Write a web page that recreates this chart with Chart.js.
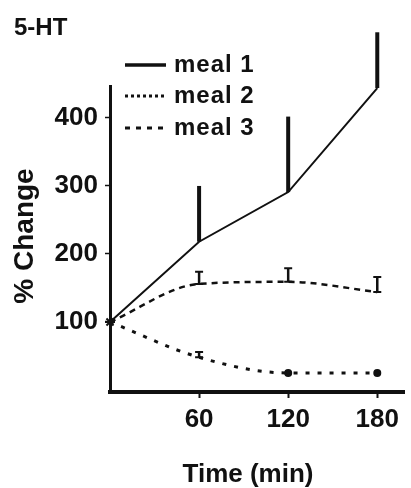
<!DOCTYPE html>
<html>
<head>
<meta charset="utf-8">
<script src="https://cdn.jsdelivr.net/npm/chart.js@4.4.1/dist/chart.umd.min.js"></script>
<style>
  html, body { margin: 0; padding: 0; background: #fff; }
  canvas { display: block; }
</style>
</head>
<body>
<canvas id="chart" width="411" height="488"></canvas>
<script>
const times = [0, 60, 120, 180]
const meal1 = [100, 218, 291, 444]
const meal1Upper = [null, 300, 402, 526]
const meal2 = [100, 156, 159, 144]
const meal2Upper = [null, 174, 179, 166]
const meal3 = [100, 48, 25, 25]
const meal3Upper = [null, 56, null, null]
const xTicks = [60, 120, 180]
const yTicks = [100, 200, 300, 400]

const sans = "'Liberation Sans', Arial, sans-serif"
const ink = "#111"

const toPoints = vals => vals.map((v, i) => ({ x: times[i], y: v }))

// error bars (upward only), drawn through the scales
const errorBars = {
  id: "errorBars",
  afterDatasetsDraw(chart) {
    const { ctx, scales: { x, y } } = chart
    ctx.save()
    chart.data.datasets.forEach(ds => {
      if (!ds.upper) return
      ds.upper.forEach((u, i) => {
        if (u == null) return
        const px = x.getPixelForValue(times[i])
        const y0 = y.getPixelForValue(ds.data[i].y)
        const y1 = y.getPixelForValue(u)
        ctx.strokeStyle = ink
        ctx.lineWidth = ds.errWidth
        ctx.setLineDash([])
        ctx.beginPath()
        ctx.moveTo(px, y0)
        ctx.lineTo(px, y1)
        ctx.stroke()
        if (ds.errCap) {
          ctx.lineWidth = 2
          ctx.beginPath()
          ctx.moveTo(px - ds.errCap, y1)
          ctx.lineTo(px + ds.errCap, y1)
          ctx.moveTo(px - ds.errCap, y0)
          ctx.lineTo(px + ds.errCap, y0)
          ctx.stroke()
        }
      })
    })
    ctx.restore()
  }
}

// legend inside the plot + texts
const labels = {
  id: "labels",
  afterDraw(chart) {
    const { ctx } = chart
    ctx.save()
    ctx.fillStyle = ink
    ctx.textBaseline = "alphabetic"

    ctx.font = "bold 24px " + sans
    ctx.textAlign = "left"
    ctx.fillText("5-HT", 14, 35)

    const rows = [72, 103, 135]
    chart.data.datasets.forEach((ds, i) => {
      const by = rows[i]
      ctx.strokeStyle = ink
      ctx.lineWidth = ds.legendWidth
      ctx.setLineDash(ds.legendDash)
      ctx.beginPath()
      ctx.moveTo(125, by - 7)
      ctx.lineTo(166, by - 7)
      ctx.stroke()
      ctx.setLineDash([])
      ctx.font = "bold 24px " + sans
      ctx.letterSpacing = "1px"
      ctx.fillText(ds.label, 174, by)
      ctx.letterSpacing = "0px"
    })

    ctx.font = "bold 26px " + sans
    ctx.textAlign = "center"
    ctx.fillText("Time (min)", 248, 482)

    ctx.translate(33, 236)
    ctx.rotate(-Math.PI / 2)
    ctx.font = "bold 28px " + sans
    ctx.fillText("% Change", 0, 0)
    ctx.restore()
  }
}

const bg = {
  id: "bg",
  beforeDraw(chart) {
    const { ctx } = chart
    ctx.save()
    ctx.fillStyle = "#fff"
    ctx.fillRect(0, 0, chart.width, chart.height)
    ctx.restore()
  }
}

new Chart(document.getElementById("chart"), {
  type: "line",
  data: {
    datasets: [
      {
        label: "meal 1",
        data: toPoints(meal1),
        upper: meal1Upper,
        errWidth: 4,
        errCap: 0,
        legendDash: [],
        legendWidth: 3.5,
        borderColor: ink,
        borderWidth: 2,
        pointRadius: 0,
        tension: 0,
        clip: false
      },
      {
        label: "meal 2",
        data: toPoints(meal2),
        upper: meal2Upper,
        errWidth: 2.5,
        errCap: 4,
        legendDash: [3, 3],
        legendWidth: 3,
        borderColor: ink,
        borderWidth: 2.5,
        borderDash: [6, 5],
        pointRadius: 0,
        cubicInterpolationMode: "monotone",
        clip: false
      },
      {
        label: "meal 3",
        data: toPoints(meal3),
        upper: meal3Upper,
        errWidth: 2.5,
        errCap: 4,
        legendDash: [5, 6],
        legendWidth: 3,
        borderColor: ink,
        backgroundColor: ink,
        borderWidth: 3,
        borderDash: [4, 8],
        pointStyle: ["star", "circle", "circle", "circle"],
        pointRadius: [5, 0, 3, 3],
        pointBorderWidth: 2,
        cubicInterpolationMode: "monotone",
        clip: false
      }
    ]
  },
  options: {
    responsive: false,
    animation: false,
    events: [],
    layout: { padding: { top: 86, left: 0, right: 0, bottom: 0 } },
    plugins: {
      legend: { display: false },
      tooltip: { enabled: false }
    },
    scales: {
      x: {
        type: "linear",
        min: 0,
        max: 198,
        afterBuildTicks: s => { s.ticks = xTicks.map(v => ({ value: v })) },
        afterFit: s => { s.height = 96 },
        grid: { drawOnChartArea: false, tickLength: 6, tickWidth: 2, color: ink },
        border: { display: true, width: 4, color: ink },
        ticks: {
          color: ink,
          padding: 6,
          maxRotation: 0,
          font: { family: sans, size: 26, weight: "bold" }
        }
      },
      y: {
        min: -3,
        max: 447,
        afterBuildTicks: s => { s.ticks = yTicks.map(v => ({ value: v })) },
        afterFit: s => { s.width = 110 },
        grid: { drawOnChartArea: false, tickLength: 5, tickWidth: 1.5, color: ink },
        border: { display: true, width: 3, color: ink },
        ticks: {
          color: ink,
          padding: 7,
          font: { family: sans, size: 26, weight: "bold" }
        }
      }
    }
  },
  plugins: [bg, errorBars, labels]
})
</script>
</body>
</html>
